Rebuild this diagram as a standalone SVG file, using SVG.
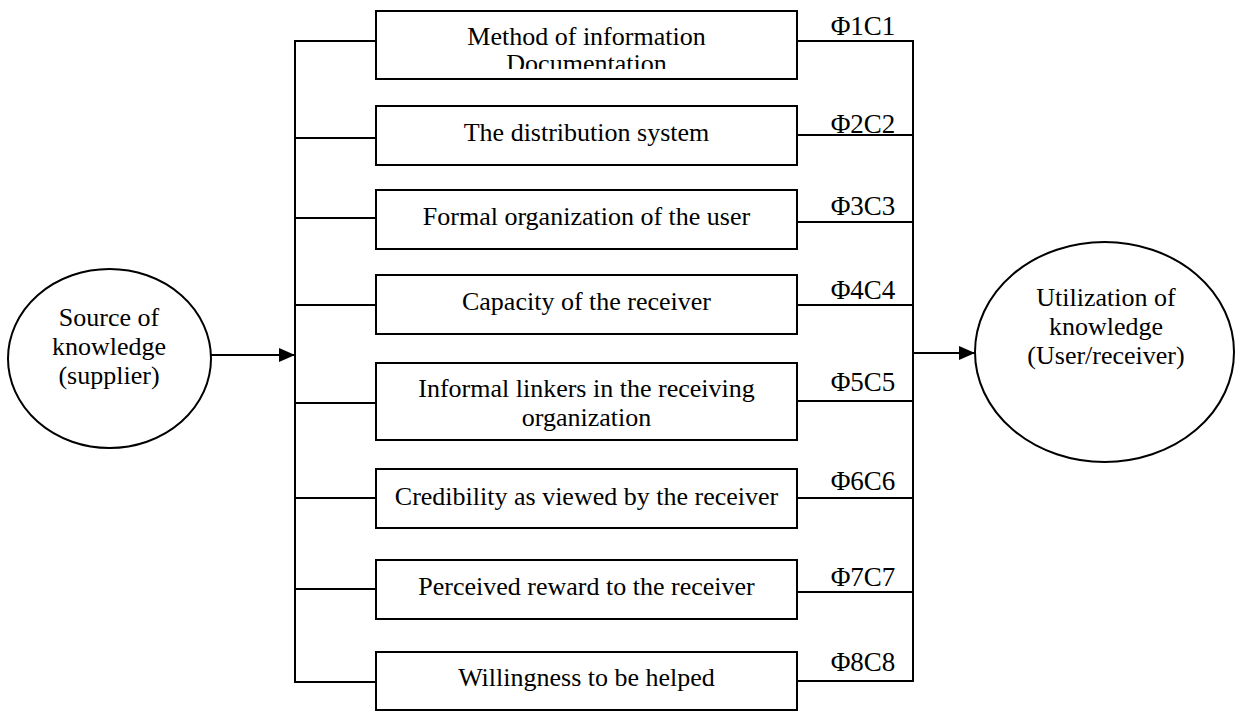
<svg xmlns="http://www.w3.org/2000/svg" width="1236" height="711" viewBox="0 0 1236 711">
  <style>
    .box { fill: #ffffff; stroke: #000000; stroke-width: 2; }
    .ell { fill: #ffffff; stroke: #000000; stroke-width: 2; }
    .wire { fill: none; stroke: #000000; stroke-width: 2; }
    text { font-family: "Liberation Serif", "Times New Roman", serif; fill: #000000; }
    .lbl { font-size: 26px; text-anchor: middle; }
    .phi { font-size: 27px; text-anchor: middle; }
  </style>
  <defs>
    <marker id="arrow" viewBox="0 0 16 14" refX="16" refY="7" markerWidth="16" markerHeight="14" markerUnits="userSpaceOnUse" orient="auto">
      <path d="M0,0 L16,7 L0,14 Z" fill="#000000"/>
    </marker>
    <clipPath id="clip-b1"><rect x="376" y="11" width="421" height="58"/></clipPath>
    <clipPath id="clip-b5"><rect x="376" y="363" width="421" height="69"/></clipPath>
  </defs>

  <rect width="1236" height="711" fill="#ffffff"/>

  <!-- connectors -->
  <g id="connectors">
    <!-- supplier side bus and branches -->
    <line class="wire" x1="295" y1="40" x2="295" y2="683"/>
    <line class="wire" x1="294" y1="41" x2="376" y2="41"/>
    <line class="wire" x1="294" y1="138" x2="376" y2="138"/>
    <line class="wire" x1="294" y1="218" x2="376" y2="218"/>
    <line class="wire" x1="294" y1="305" x2="376" y2="305"/>
    <line class="wire" x1="294" y1="403" x2="376" y2="403"/>
    <line class="wire" x1="294" y1="498" x2="376" y2="498"/>
    <line class="wire" x1="294" y1="589" x2="376" y2="589"/>
    <line class="wire" x1="294" y1="682" x2="376" y2="682"/>
    <!-- receiver side bus and branches -->
    <line class="wire" x1="913" y1="40" x2="913" y2="682"/>
    <line class="wire" x1="797" y1="41" x2="914" y2="41"/>
    <line class="wire" x1="797" y1="135" x2="914" y2="135"/>
    <line class="wire" x1="797" y1="222" x2="914" y2="222"/>
    <line class="wire" x1="797" y1="305" x2="914" y2="305"/>
    <line class="wire" x1="797" y1="401" x2="914" y2="401"/>
    <line class="wire" x1="797" y1="498" x2="914" y2="498"/>
    <line class="wire" x1="797" y1="592" x2="914" y2="592"/>
    <line class="wire" x1="797" y1="681" x2="914" y2="681"/>
    <!-- arrows into the bus and into the receiver -->
    <line class="wire" x1="211" y1="355" x2="295" y2="355" marker-end="url(#arrow)"/>
    <line class="wire" x1="913" y1="353" x2="975" y2="353" marker-end="url(#arrow)"/>
    <!-- channel labels -->
    <text class="phi" x="863" y="35">Φ1C1</text>
    <text class="phi" x="863" y="133">Φ2C2</text>
    <text class="phi" x="863" y="215">Φ3C3</text>
    <text class="phi" x="863" y="299">Φ4C4</text>
    <text class="phi" x="863" y="391">Φ5C5</text>
    <text class="phi" x="863" y="490">Φ6C6</text>
    <text class="phi" x="863" y="586">Φ7C7</text>
    <text class="phi" x="863" y="671">Φ8C8</text>
  </g>

  <!-- source node -->
  <g id="source">
    <ellipse class="ell" cx="109.5" cy="358.5" rx="101.5" ry="89.5"/>
    <text class="lbl" x="109" y="326">Source of</text>
    <text class="lbl" x="109" y="355">knowledge</text>
    <text class="lbl" x="109" y="384">(supplier)</text>
  </g>

  <!-- receiver node -->
  <g id="receiver">
    <ellipse class="ell" cx="1104.5" cy="352" rx="129.5" ry="110"/>
    <text class="lbl" x="1106" y="306">Utilization of</text>
    <text class="lbl" x="1106" y="335">knowledge</text>
    <text class="lbl" x="1106" y="364">(User/receiver)</text>
  </g>

  <!-- factor boxes -->
  <g id="factor1">
    <rect class="box" x="376" y="11" width="421" height="68"/>
    <g clip-path="url(#clip-b1)">
      <text class="lbl" x="586.5" y="45">Method of information</text>
      <text class="lbl" x="586.5" y="72">Documentation</text>
    </g>
  </g>
  <g id="factor2">
    <rect class="box" x="376" y="106" width="421" height="59"/>
    <text class="lbl" x="586.5" y="141">The distribution system</text>
  </g>
  <g id="factor3">
    <rect class="box" x="376" y="190" width="421" height="59"/>
    <text class="lbl" x="586.5" y="225">Formal organization of the user</text>
  </g>
  <g id="factor4">
    <rect class="box" x="376" y="275" width="421" height="59"/>
    <text class="lbl" x="586.5" y="310">Capacity of the receiver</text>
  </g>
  <g id="factor5">
    <rect class="box" x="376" y="363" width="421" height="77"/>
    <g clip-path="url(#clip-b5)">
      <text class="lbl" x="586.5" y="397">Informal linkers in the receiving</text>
      <text class="lbl" x="586.5" y="426">organization</text>
    </g>
  </g>
  <g id="factor6">
    <rect class="box" x="376" y="469" width="421" height="59"/>
    <text class="lbl" x="586.5" y="505">Credibility as viewed by the receiver</text>
  </g>
  <g id="factor7">
    <rect class="box" x="376" y="560" width="421" height="59"/>
    <text class="lbl" x="586.5" y="595">Perceived reward to the receiver</text>
  </g>
  <g id="factor8">
    <rect class="box" x="376" y="652" width="421" height="58"/>
    <text class="lbl" x="586.5" y="686">Willingness to be helped</text>
  </g>
</svg>
